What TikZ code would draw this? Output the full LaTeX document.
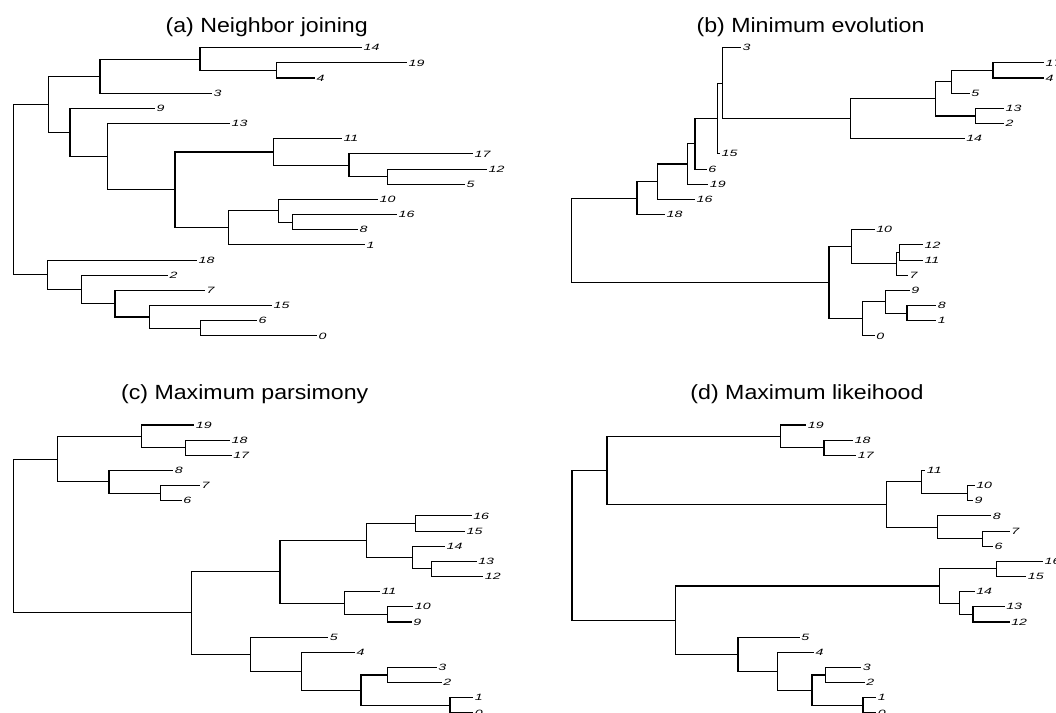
\documentclass[tikz,border=0pt]{standalone}
\usepackage{fontspec}
\setmainfont{Liberation Sans}
\begin{document}
\begin{tikzpicture}[x=0.03cm,y=-0.03cm]
		\tikzset{tip/.style = {anchor=west, font=\fontsize{7.8}{9}\selectfont\itshape, inner xsep=0.7pt, inner ysep=0.5pt, xscale=1.55}}
		\tikzset{branch/.style = {line width=0.9pt}}
		\tikzset{heading/.style = {anchor=base, font=\fontsize{17.5}{20}\selectfont, xscale=1.13}}

		\useasboundingbox (0,0) rectangle (1056,713);
		\fill[white] (0,0) rectangle (1056,713);
		\clip (0,0) rectangle (1056,713);

		% (a) neighbor joining
		\node[heading] (ta) at (266.7,32.3) {(a) Neighbor joining};
		\node[tip] (a14) at (362,47.7) {14};
		\node[tip] (a19) at (407,62.9) {19};
		\node[tip] (a4) at (315,78.0) {4};
		\node[tip] (a3) at (212,93.2) {3};
		\node[tip] (a9) at (155,108.4) {9};
		\node[tip] (a13) at (230,123.6) {13};
		\node[tip] (a11) at (342,138.7) {11};
		\node[tip] (a17) at (473,153.9) {17};
		\node[tip] (a12) at (487,169.1) {12};
		\node[tip] (a5) at (465,184.2) {5};
		\node[tip] (a10) at (378,199.4) {10};
		\node[tip] (a16) at (397,214.6) {16};
		\node[tip] (a8) at (358,229.7) {8};
		\node[tip] (a1) at (365,244.9) {1};
		\node[tip] (a18) at (197,260.1) {18};
		\node[tip] (a2) at (168,275.3) {2};
		\node[tip] (a7) at (205,290.4) {7};
		\node[tip] (a15) at (272,305.6) {15};
		\node[tip] (a6) at (257,320.8) {6};
		\node[tip] (a0) at (317,335.9) {0};

		\coordinate (aD) at (276.7,70.45);
		\coordinate (aC) at (200,59.1);
		\coordinate (aB) at (100,76.1);
		\coordinate (aJ) at (387.7,176.65);
		\coordinate (aI) at (349,165.3);
		\coordinate (aH) at (273.3,152.0);
		\coordinate (aM) at (292.7,222.15);
		\coordinate (aL) at (278.3,210.8);
		\coordinate (aK) at (228.3,227.85);
		\coordinate (aG) at (175,189.9);
		\coordinate (aF) at (107.3,156.8);
		\coordinate (aE) at (70,132.6);
		\coordinate (aA) at (48.3,104.35);
		\coordinate (aR) at (200.7,328.35);
		\coordinate (aQ) at (149.3,317);
		\coordinate (aP) at (115,303.7);
		\coordinate (aO) at (81.7,289.5);
		\coordinate (aN) at (47.7,274.8);
		\coordinate (aroot) at (13.3,189.6);

		\draw[branch] (aD) |- (a19) (aD) |- (a4);
		\draw[branch] (aC) |- (a14) (aC) |- (aD);
		\draw[branch] (aB) |- (aC) (aB) |- (a3);
		\draw[branch] (aJ) |- (a12) (aJ) |- (a5);
		\draw[branch] (aI) |- (a17) (aI) |- (aJ);
		\draw[branch] (aH) |- (a11) (aH) |- (aI);
		\draw[branch] (aM) |- (a16) (aM) |- (a8);
		\draw[branch] (aL) |- (a10) (aL) |- (aM);
		\draw[branch] (aK) |- (aL) (aK) |- (a1);
		\draw[branch] (aG) |- (aH) (aG) |- (aK);
		\draw[branch] (aF) |- (a13) (aF) |- (aG);
		\draw[branch] (aE) |- (a9) (aE) |- (aF);
		\draw[branch] (aA) |- (aB) (aA) |- (aE);
		\draw[branch] (aR) |- (a6) (aR) |- (a0);
		\draw[branch] (aQ) |- (a15) (aQ) |- (aR);
		\draw[branch] (aP) |- (a7) (aP) |- (aQ);
		\draw[branch] (aO) |- (a2) (aO) |- (aP);
		\draw[branch] (aN) |- (a18) (aN) |- (aO);
		\draw[branch] (aroot) |- (aA) (aroot) |- (aN);

		% (b) minimum evolution
		\node[heading] (tb) at (810.5,32.3) {(b) Minimum evolution};
		\node[tip] (b3) at (741,47.7) {3};
		\node[tip] (b17) at (1044,62.9) {17};
		\node[tip] (b4) at (1044,78.0) {4};
		\node[tip] (b5) at (969.7,93.2) {5};
		\node[tip] (b13) at (1004,108.4) {13};
		\node[tip] (b2) at (1004,123.6) {2};
		\node[tip] (b14) at (964.7,138.7) {14};
		\node[tip] (b15) at (720,153.9) {15};
		\node[tip] (b6) at (706.7,169.1) {6};
		\node[tip] (b19) at (708.3,184.2) {19};
		\node[tip] (b16) at (695,199.4) {16};
		\node[tip] (b18) at (665,214.6) {18};
		\node[tip] (b10) at (874.7,229.7) {10};
		\node[tip] (b12) at (923,244.9) {12};
		\node[tip] (b11) at (923,260.1) {11};
		\node[tip] (b7) at (908,275.3) {7};
		\node[tip] (b9) at (909.7,290.4) {9};
		\node[tip] (b8) at (936.3,305.6) {8};
		\node[tip] (b1) at (936.3,320.8) {1};
		\node[tip] (b0) at (874.7,335.9) {0};

		\coordinate (bZ) at (993,70.45);
		\coordinate (bX) at (951.3,81.8);
		\coordinate (bY) at (975.7,116);
		\coordinate (bW) at (935.3,98.9);
		\coordinate (bV) at (850.3,118.8);
		\coordinate (bU6) at (722.7,83.25);
		\coordinate (bU5) at (717.7,118.6);
		\coordinate (bU4) at (695,143.85);
		\coordinate (bU3) at (687.7,164);
		\coordinate (bU2) at (657.7,181.7);
		\coordinate (bU1) at (637,198.15);
		\coordinate (bL4) at (899.7,252.5);
		\coordinate (bL3) at (896.3,263.9);
		\coordinate (bL2) at (851.3,246.8);
		\coordinate (bL7) at (907,313.2);
		\coordinate (bL6) at (885.3,301.8);
		\coordinate (bL5) at (862.3,318.85);
		\coordinate (bL1) at (829,282.8);
		\coordinate (broot) at (571.3,240.5);

		\draw[branch] (bZ) |- (b17) (bZ) |- (b4);
		\draw[branch] (bX) |- (bZ) (bX) |- (b5);
		\draw[branch] (bY) |- (b13) (bY) |- (b2);
		\draw[branch] (bW) |- (bX) (bW) |- (bY);
		\draw[branch] (bV) |- (bW) (bV) |- (b14);
		\draw[branch] (bU6) |- (b3) (bU6) |- (bV);
		\draw[branch] (bU5) |- (bU6) (bU5) |- (b15);
		\draw[branch] (bU4) |- (bU5) (bU4) |- (b6);
		\draw[branch] (bU3) |- (bU4) (bU3) |- (b19);
		\draw[branch] (bU2) |- (bU3) (bU2) |- (b16);
		\draw[branch] (bU1) |- (bU2) (bU1) |- (b18);
		\draw[branch] (bL4) |- (b12) (bL4) |- (b11);
		\draw[branch] (bL3) |- (bL4) (bL3) |- (b7);
		\draw[branch] (bL2) |- (b10) (bL2) |- (bL3);
		\draw[branch] (bL7) |- (b8) (bL7) |- (b1);
		\draw[branch] (bL6) |- (b9) (bL6) |- (bL7);
		\draw[branch] (bL5) |- (bL6) (bL5) |- (b0);
		\draw[branch] (bL1) |- (bL2) (bL1) |- (bL5);
		\draw[branch] (broot) |- (bU1) (broot) |- (bL1);

		% (c) maximum parsimony
		\node[heading] (tc) at (244.7,400) {(c) Maximum parsimony};
		\node[tip] (c19) at (194.3,425) {19};
		\node[tip] (c18) at (230,440.2) {18};
		\node[tip] (c17) at (231.7,455.3) {17};
		\node[tip] (c8) at (173.3,470.5) {8};
		\node[tip] (c7) at (200,485.6) {7};
		\node[tip] (c6) at (181.7,500.8) {6};
		\node[tip] (c16) at (471.7,515.9) {16};
		\node[tip] (c15) at (465,531.1) {15};
		\node[tip] (c14) at (445,546.2) {14};
		\node[tip] (c13) at (476.7,561.4) {13};
		\node[tip] (c12) at (483.3,576.5) {12};
		\node[tip] (c11) at (380,591.7) {11};
		\node[tip] (c10) at (413.3,606.8) {10};
		\node[tip] (c9) at (411.7,622.0) {9};
		\node[tip] (c5) at (328.3,637.1) {5};
		\node[tip] (c4) at (355,652.3) {4};
		\node[tip] (c3) at (436.7,667.4) {3};
		\node[tip] (c2) at (441.7,682.6) {2};
		\node[tip] (c1) at (473.3,697.7) {1};
		\node[tip] (c0) at (473.3,712.9) {0};

		\coordinate (cA4) at (185.7,447.75);
		\coordinate (cA2) at (141.7,436.4);
		\coordinate (cA5) at (160.7,493.2);
		\coordinate (cA3) at (109,481.85);
		\coordinate (cA1) at (57.7,459.1);
		\coordinate (cB6) at (415.7,523.5);
		\coordinate (cB8) at (431.7,568.95);
		\coordinate (cB7) at (412.7,557.6);
		\coordinate (cB4) at (366.7,540.55);
		\coordinate (cB9) at (387.7,614.4);
		\coordinate (cB5) at (344.3,603.05);
		\coordinate (cB2) at (280,571.8);
		\coordinate (cB12) at (387.7,675);
		\coordinate (cB13) at (450,705.3);
		\coordinate (cB11) at (361,690.15);
		\coordinate (cB10) at (301.7,671.2);
		\coordinate (cB3) at (250.7,654.15);
		\coordinate (cB1) at (191.7,612.95);
		\coordinate (croot) at (13.3,536);

		\draw[branch] (cA4) |- (c18) (cA4) |- (c17);
		\draw[branch] (cA2) |- (c19) (cA2) |- (cA4);
		\draw[branch] (cA5) |- (c7) (cA5) |- (c6);
		\draw[branch] (cA3) |- (c8) (cA3) |- (cA5);
		\draw[branch] (cA1) |- (cA2) (cA1) |- (cA3);
		\draw[branch] (cB6) |- (c16) (cB6) |- (c15);
		\draw[branch] (cB8) |- (c13) (cB8) |- (c12);
		\draw[branch] (cB7) |- (c14) (cB7) |- (cB8);
		\draw[branch] (cB4) |- (cB6) (cB4) |- (cB7);
		\draw[branch] (cB9) |- (c10) (cB9) |- (c9);
		\draw[branch] (cB5) |- (c11) (cB5) |- (cB9);
		\draw[branch] (cB2) |- (cB4) (cB2) |- (cB5);
		\draw[branch] (cB12) |- (c3) (cB12) |- (c2);
		\draw[branch] (cB13) |- (c1) (cB13) |- (c0);
		\draw[branch] (cB11) |- (cB12) (cB11) |- (cB13);
		\draw[branch] (cB10) |- (c4) (cB10) |- (cB11);
		\draw[branch] (cB3) |- (c5) (cB3) |- (cB10);
		\draw[branch] (cB1) |- (cB2) (cB1) |- (cB3);
		\draw[branch] (croot) |- (cA1) (croot) |- (cB1);

		% (d) maximum likelihood
		\node[heading] (td) at (807,400) {(d) Maximum likeihood};
		\node[tip] (d19) at (806.3,425) {19};
		\node[tip] (d18) at (853,440.2) {18};
		\node[tip] (d17) at (856.3,455.3) {17};
		\node[tip] (d11) at (925.3,470.5) {11};
		\node[tip] (d10) at (974.7,485.6) {10};
		\node[tip] (d9) at (973,500.8) {9};
		\node[tip] (d8) at (991.3,515.9) {8};
		\node[tip] (d7) at (1009.7,531.1) {7};
		\node[tip] (d6) at (993,546.2) {6};
		\node[tip] (d16) at (1043,561.4) {16};
		\node[tip] (d15) at (1026.3,576.5) {15};
		\node[tip] (d14) at (974.7,591.7) {14};
		\node[tip] (d13) at (1004.7,606.8) {13};
		\node[tip] (d12) at (1009.7,622.0) {12};
		\node[tip] (d5) at (799.7,637.1) {5};
		\node[tip] (d4) at (814,652.3) {4};
		\node[tip] (d3) at (861.3,667.4) {3};
		\node[tip] (d2) at (864.7,682.6) {2};
		\node[tip] (d1) at (876.3,697.7) {1};
		\node[tip] (d0) at (876.3,712.9) {0};

		\coordinate (dA4) at (824,447.75);
		\coordinate (dA2) at (780.7,436.4);
		\coordinate (dA7) at (967.3,493.2);
		\coordinate (dA5) at (921.3,481.85);
		\coordinate (dA8) at (982.3,538.65);
		\coordinate (dA6) at (937.3,527.3);
		\coordinate (dA3) at (886.3,504.6);
		\coordinate (dA1) at (607,470.5);
		\coordinate (dB4) at (996.3,568.95);
		\coordinate (dB6) at (973,614.4);
		\coordinate (dB5) at (959.7,603.05);
		\coordinate (dB2) at (939.7,586);
		\coordinate (dB9) at (825.3,675);
		\coordinate (dB10) at (863,705.3);
		\coordinate (dB8) at (812,690.15);
		\coordinate (dB7) at (777.3,671.2);
		\coordinate (dB3) at (738,654.15);
		\coordinate (dB1) at (675.7,620.1);
		\coordinate (droot) at (572,545.3);

		\draw[branch] (dA4) |- (d18) (dA4) |- (d17);
		\draw[branch] (dA2) |- (d19) (dA2) |- (dA4);
		\draw[branch] (dA7) |- (d10) (dA7) |- (d9);
		\draw[branch] (dA5) |- (d11) (dA5) |- (dA7);
		\draw[branch] (dA8) |- (d7) (dA8) |- (d6);
		\draw[branch] (dA6) |- (d8) (dA6) |- (dA8);
		\draw[branch] (dA3) |- (dA5) (dA3) |- (dA6);
		\draw[branch] (dA1) |- (dA2) (dA1) |- (dA3);
		\draw[branch] (dB4) |- (d16) (dB4) |- (d15);
		\draw[branch] (dB6) |- (d13) (dB6) |- (d12);
		\draw[branch] (dB5) |- (d14) (dB5) |- (dB6);
		\draw[branch] (dB2) |- (dB4) (dB2) |- (dB5);
		\draw[branch] (dB9) |- (d3) (dB9) |- (d2);
		\draw[branch] (dB10) |- (d1) (dB10) |- (d0);
		\draw[branch] (dB8) |- (dB9) (dB8) |- (dB10);
		\draw[branch] (dB7) |- (d4) (dB7) |- (dB8);
		\draw[branch] (dB3) |- (d5) (dB3) |- (dB7);
		\draw[branch] (dB1) |- (dB2) (dB1) |- (dB3);
		\draw[branch] (droot) |- (dA1) (droot) |- (dB1);

	\end{tikzpicture}
\end{document}
